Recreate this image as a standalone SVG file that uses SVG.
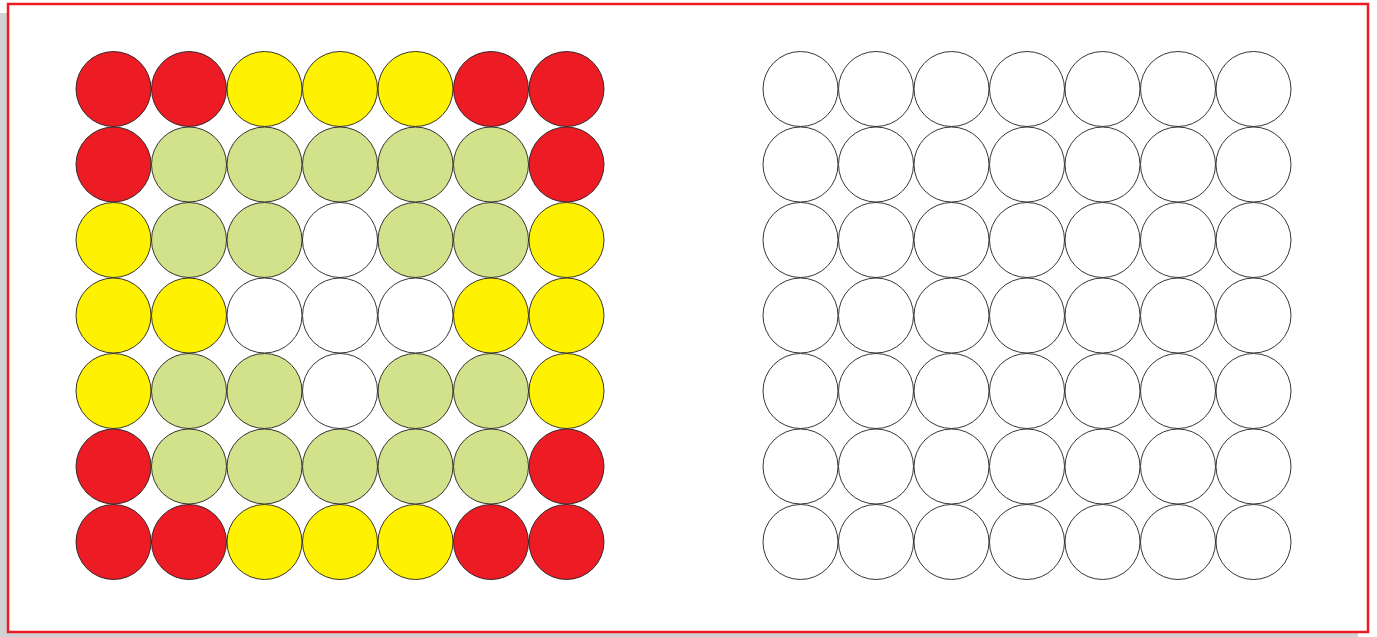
<svg xmlns="http://www.w3.org/2000/svg" width="1377" height="637" viewBox="0 0 1377 637">
<style>
.c{stroke:#231f20;stroke-width:0.9}
.r{fill:#ed1c24}.y{fill:#fff200}.g{fill:#d2e28a}.w{fill:#ffffff}
</style>
<rect x="0" y="0" width="1377" height="637" fill="#ffffff"/>
<rect x="0" y="13" width="7" height="624" fill="#d1d2d4"/>
<rect x="0" y="633" width="1358" height="4" fill="#d1d2d4"/>
<rect x="8" y="4" width="1360" height="628" fill="#ffffff" stroke="#ed1c24" stroke-width="2.5"/>
<g id="left-grid">
<g id="L0">
<circle class="c r" cx="113.5" cy="89" r="37.5"/><circle class="c r" cx="189" cy="89" r="37.5"/><circle class="c y" cx="264.5" cy="89" r="37.5"/><circle class="c y" cx="340" cy="89" r="37.5"/><circle class="c y" cx="415.5" cy="89" r="37.5"/><circle class="c r" cx="491" cy="89" r="37.5"/><circle class="c r" cx="566.5" cy="89" r="37.5"/>
</g>
<g id="L1">
<circle class="c r" cx="113.5" cy="164.5" r="37.5"/><circle class="c g" cx="189" cy="164.5" r="37.5"/><circle class="c g" cx="264.5" cy="164.5" r="37.5"/><circle class="c g" cx="340" cy="164.5" r="37.5"/><circle class="c g" cx="415.5" cy="164.5" r="37.5"/><circle class="c g" cx="491" cy="164.5" r="37.5"/><circle class="c r" cx="566.5" cy="164.5" r="37.5"/>
</g>
<g id="L2">
<circle class="c y" cx="113.5" cy="240" r="37.5"/><circle class="c g" cx="189" cy="240" r="37.5"/><circle class="c g" cx="264.5" cy="240" r="37.5"/><circle class="c w" cx="340" cy="240" r="37.5"/><circle class="c g" cx="415.5" cy="240" r="37.5"/><circle class="c g" cx="491" cy="240" r="37.5"/><circle class="c y" cx="566.5" cy="240" r="37.5"/>
</g>
<g id="L3">
<circle class="c y" cx="113.5" cy="315.5" r="37.5"/><circle class="c y" cx="189" cy="315.5" r="37.5"/><circle class="c w" cx="264.5" cy="315.5" r="37.5"/><circle class="c w" cx="340" cy="315.5" r="37.5"/><circle class="c w" cx="415.5" cy="315.5" r="37.5"/><circle class="c y" cx="491" cy="315.5" r="37.5"/><circle class="c y" cx="566.5" cy="315.5" r="37.5"/>
</g>
<g id="L4">
<circle class="c y" cx="113.5" cy="391" r="37.5"/><circle class="c g" cx="189" cy="391" r="37.5"/><circle class="c g" cx="264.5" cy="391" r="37.5"/><circle class="c w" cx="340" cy="391" r="37.5"/><circle class="c g" cx="415.5" cy="391" r="37.5"/><circle class="c g" cx="491" cy="391" r="37.5"/><circle class="c y" cx="566.5" cy="391" r="37.5"/>
</g>
<g id="L5">
<circle class="c r" cx="113.5" cy="466.5" r="37.5"/><circle class="c g" cx="189" cy="466.5" r="37.5"/><circle class="c g" cx="264.5" cy="466.5" r="37.5"/><circle class="c g" cx="340" cy="466.5" r="37.5"/><circle class="c g" cx="415.5" cy="466.5" r="37.5"/><circle class="c g" cx="491" cy="466.5" r="37.5"/><circle class="c r" cx="566.5" cy="466.5" r="37.5"/>
</g>
<g id="L6">
<circle class="c r" cx="113.5" cy="542" r="37.5"/><circle class="c r" cx="189" cy="542" r="37.5"/><circle class="c y" cx="264.5" cy="542" r="37.5"/><circle class="c y" cx="340" cy="542" r="37.5"/><circle class="c y" cx="415.5" cy="542" r="37.5"/><circle class="c r" cx="491" cy="542" r="37.5"/><circle class="c r" cx="566.5" cy="542" r="37.5"/>
</g>
</g>
<g id="right-grid" class="c w">
<g id="R0"><circle cx="800.5" cy="89" r="37.5"/><circle cx="876" cy="89" r="37.5"/><circle cx="951.5" cy="89" r="37.5"/><circle cx="1027" cy="89" r="37.5"/><circle cx="1102.5" cy="89" r="37.5"/><circle cx="1178" cy="89" r="37.5"/><circle cx="1253.5" cy="89" r="37.5"/></g>
<g id="R1"><circle cx="800.5" cy="164.5" r="37.5"/><circle cx="876" cy="164.5" r="37.5"/><circle cx="951.5" cy="164.5" r="37.5"/><circle cx="1027" cy="164.5" r="37.5"/><circle cx="1102.5" cy="164.5" r="37.5"/><circle cx="1178" cy="164.5" r="37.5"/><circle cx="1253.5" cy="164.5" r="37.5"/></g>
<g id="R2"><circle cx="800.5" cy="240" r="37.5"/><circle cx="876" cy="240" r="37.5"/><circle cx="951.5" cy="240" r="37.5"/><circle cx="1027" cy="240" r="37.5"/><circle cx="1102.5" cy="240" r="37.5"/><circle cx="1178" cy="240" r="37.5"/><circle cx="1253.5" cy="240" r="37.5"/></g>
<g id="R3"><circle cx="800.5" cy="315.5" r="37.5"/><circle cx="876" cy="315.5" r="37.5"/><circle cx="951.5" cy="315.5" r="37.5"/><circle cx="1027" cy="315.5" r="37.5"/><circle cx="1102.5" cy="315.5" r="37.5"/><circle cx="1178" cy="315.5" r="37.5"/><circle cx="1253.5" cy="315.5" r="37.5"/></g>
<g id="R4"><circle cx="800.5" cy="391" r="37.5"/><circle cx="876" cy="391" r="37.5"/><circle cx="951.5" cy="391" r="37.5"/><circle cx="1027" cy="391" r="37.5"/><circle cx="1102.5" cy="391" r="37.5"/><circle cx="1178" cy="391" r="37.5"/><circle cx="1253.5" cy="391" r="37.5"/></g>
<g id="R5"><circle cx="800.5" cy="466.5" r="37.5"/><circle cx="876" cy="466.5" r="37.5"/><circle cx="951.5" cy="466.5" r="37.5"/><circle cx="1027" cy="466.5" r="37.5"/><circle cx="1102.5" cy="466.5" r="37.5"/><circle cx="1178" cy="466.5" r="37.5"/><circle cx="1253.5" cy="466.5" r="37.5"/></g>
<g id="R6"><circle cx="800.5" cy="542" r="37.5"/><circle cx="876" cy="542" r="37.5"/><circle cx="951.5" cy="542" r="37.5"/><circle cx="1027" cy="542" r="37.5"/><circle cx="1102.5" cy="542" r="37.5"/><circle cx="1178" cy="542" r="37.5"/><circle cx="1253.5" cy="542" r="37.5"/></g>
</g>
</svg>
